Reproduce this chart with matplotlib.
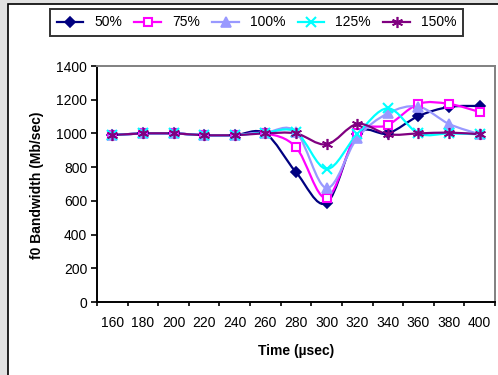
import numpy as np
import matplotlib
matplotlib.use("Agg")
import matplotlib.pyplot as plt
from matplotlib.path import Path
from matplotlib.patches import PathPatch, Rectangle
from matplotlib.lines import Line2D

plt.rcParams['font.family'] = ['Liberation Sans', 'DejaVu Sans']

# =============================================================================
# Datos
# =============================================================================
times = [160, 180, 200, 220, 240, 260, 280, 300, 320, 340, 360, 380, 400]

bw_50 = [990, 1000, 1000, 990, 990, 1000, 770, 587, 995, 1000, 1103, 1157, 1163]
bw_75 = [990, 1000, 1000, 990, 990, 1000, 918, 617, 1000, 1050, 1175, 1175, 1127]
bw_100 = [990, 1000, 1000, 990, 990, 1005, 1010, 676, 973, 1119, 1159, 1056, 995]
bw_125 = [990, 1000, 1000, 990, 990, 1005, 1008, 789, 995, 1149, 1000, 1000, 995]
bw_150 = [990, 1000, 1000, 990, 990, 1000, 1000, 935, 1056, 995, 1000, 1005, 995]

labels = ['50%', '75%', '100%', '125%', '150%']
series = [bw_50, bw_75, bw_100, bw_125, bw_150]
colors = ['#000080', '#FF00FF', '#9999FF', '#00FFFF', '#800080']
markers = ['D', 's', '^', 'x', (6, 2, 0)]
msizes = [5.5, 5.5, 6.5, 7, 8]
mfaces = ['#000080', 'white', '#9999FF', '#00FFFF', '#800080']

yticks = [0, 200, 400, 600, 800, 1000, 1200, 1400]


# Curva suavizada tipo Excel (Bezier cúbica a partir de los puntos)
def curva_suave(x, y):
    p = np.column_stack([x, y]).astype(float)
    n = len(p)
    verts = [p[0]]
    codes = [Path.MOVETO]
    for i in range(n - 1):
        p0 = p[i - 1] if i > 0 else p[i]
        p3 = p[i + 2] if i + 2 < n else p[i + 1]
        c1 = p[i] + (p[i + 1] - p0) / 6.0
        c2 = p[i + 1] - (p3 - p[i]) / 6.0
        verts += [c1, c2, p[i + 1]]
        codes += [Path.CURVE4] * 3
    return Path(verts, codes)


fig = plt.figure(figsize=(4.98, 3.75), dpi=100)
fig.patch.set_facecolor('#e2e2e2')
# Área del gráfico (blanca con borde negro)
fig.patches.append(Rectangle((8 / 498, -0.1), 1.0, 1 - 4 / 375 + 0.1,
                             transform=fig.transFigure, facecolor='white',
                             edgecolor='black', linewidth=1.2, zorder=-5))

ax = fig.add_axes([97 / 498, 1 - 302 / 375, (495 - 97) / 498, (302 - 66) / 375])
ax.set_facecolor('white')

x = np.arange(len(times))
for yv, c, mk, ms, mf in zip(series, colors, markers, msizes, mfaces):
    ax.add_patch(PathPatch(curva_suave(x, yv), facecolor='none', edgecolor=c,
                           lw=1.6, zorder=2))
    ax.plot(x, yv, ls='none', marker=mk, color=c, ms=ms, mfc=mf, mec=c,
            mew=1.5 if mk in ('x', 's') else 1.2, zorder=3)

ax.set_xlim(-0.5, len(times) - 0.5)
ax.set_ylim(0, 1400)
ax.set_xticks(np.arange(len(times) + 1) - 0.5)
ax.set_xticklabels([])
ax.set_xticks(x, minor=True)
ax.set_xticklabels([str(t) for t in times], minor=True)
ax.tick_params(axis='x', which='major', length=3, width=1.2, direction='out')
ax.tick_params(axis='x', which='minor', length=0, pad=10, labelsize=10)
ax.set_yticks(yticks)
ax.tick_params(axis='y', length=4, width=1.2, direction='out', pad=3, labelsize=10)

ax.spines['left'].set_linewidth(1.4)
ax.spines['bottom'].set_linewidth(1.4)
ax.spines['top'].set_color('#808080')
ax.spines['right'].set_color('#808080')
ax.spines['top'].set_linewidth(1.4)
ax.spines['right'].set_linewidth(1.4)

ax.set_xlabel('Time (µsec)', fontsize=10, fontweight='bold')
ax.xaxis.set_label_coords((296 - 97) / 398, -(344 - 302) / 236)
ax.set_ylabel('f0 Bandwidth (Mb/sec)', fontsize=10, fontweight='bold')
ax.yaxis.set_label_coords(-(97 - 44) / 398, (302 - 185) / 236)

handles = [Line2D([], [], color=c, marker=mk, ms=ms, mfc=mf, mec=c, lw=1.6,
                  mew=1.5 if mk in ('x', 's') else 1.2)
           for c, mk, ms, mf in zip(colors, markers, msizes, mfaces)]
leg = fig.legend(handles, labels, loc='center', ncol=5,
                 bbox_to_anchor=(256.5 / 498, 1 - 22.5 / 375), fontsize=10,
                 frameon=True, fancybox=False, edgecolor='black',
                 handlelength=1.9, handletextpad=0.8, columnspacing=0.9,
                 borderpad=0.45, borderaxespad=0)
leg.get_frame().set_linewidth(1.4)

fig.savefig('out.png', dpi=100, facecolor=fig.get_facecolor())
